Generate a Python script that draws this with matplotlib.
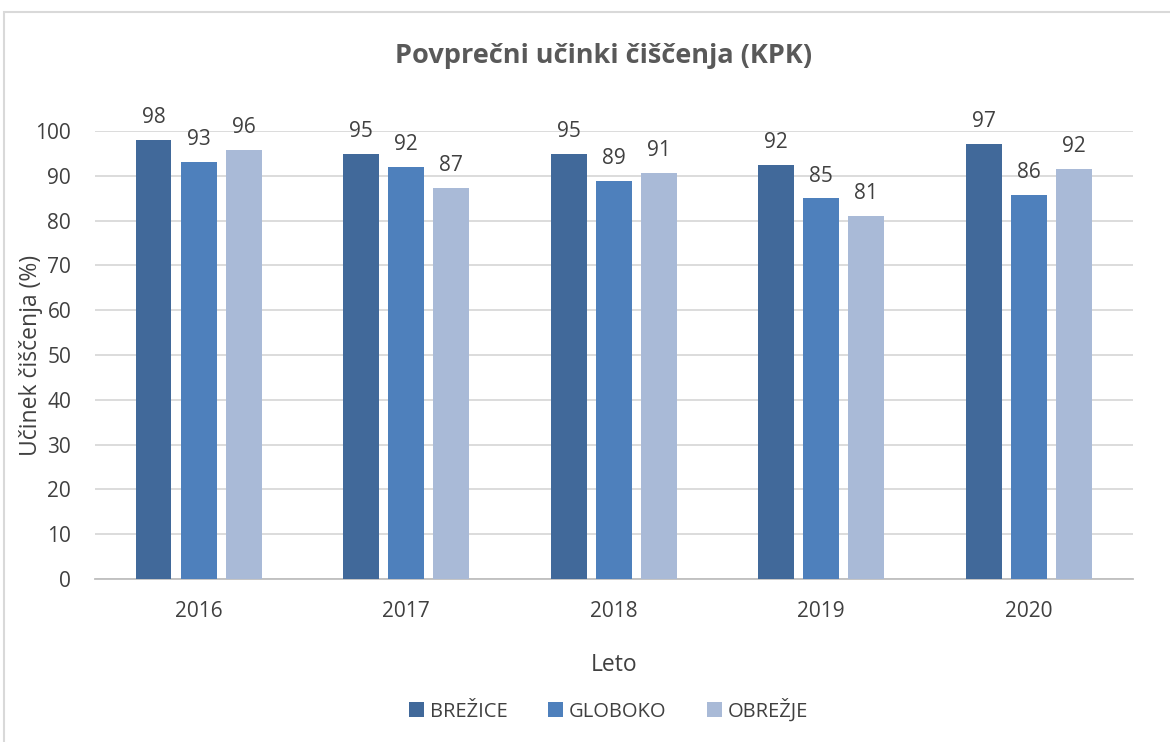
import numpy as np
import matplotlib.pyplot as plt
from matplotlib.patches import Rectangle

# ============================================================
# DATA
# ============================================================
years = ["2016", "2017", "2018", "2019", "2020"]
brezice = [98.0, 94.9, 94.9, 92.4, 97.1]
globoko = [93.1, 92.0, 88.8, 85.0, 85.7]
obrezje = [95.8, 87.3, 90.6, 81.0, 91.5]
labels_brezice = [98, 95, 95, 92, 97]
labels_globoko = [93, 92, 89, 85, 86]
labels_obrezje = [96, 87, 91, 81, 92]

series = [
    ("BREŽICE", brezice, labels_brezice, "#41699a"),
    ("GLOBOKO", globoko, labels_globoko, "#4e80bc"),
    ("OBREŽJE", obrezje, labels_obrezje, "#a9bad7"),
]

plt.rcParams["font.family"] = ["Open Sans", "DejaVu Sans"]
TXT = "#404040"

fig = plt.figure(figsize=(11.7, 7.42), dpi=100)
ax = fig.add_axes([0.081, 0.2197, 0.887, 0.6038])

# okvir grafa
fig.patches.append(Rectangle((4 / 1170, -0.01), 1.1, 1 - 12 / 742 + 0.01,
                             transform=fig.transFigure, fill=False,
                             edgecolor="#d9d9d9", linewidth=1.5))

x = np.arange(len(years))
width = 0.173
step = 0.217
for i, (name, vals, labs, col) in enumerate(series):
    pos = x + (i - 1) * step
    bars = ax.bar(pos, vals, width=width, color=col, label=name, zorder=3)
    for b, lab in zip(bars, labs):
        ax.text(b.get_x() + b.get_width() / 2, b.get_height() + 2.6, str(lab),
                ha="center", va="bottom", fontsize=15, color=TXT)

ax.set_ylim(0, 100)
ax.set_xlim(-0.5, len(years) - 0.5)
ax.set_yticks(range(0, 101, 10))
ax.set_xticks(x)
ax.set_xticklabels(years)
ax.tick_params(axis="both", length=0, labelsize=15, labelcolor=TXT)
ax.tick_params(axis="x", pad=16)
ax.tick_params(axis="y", pad=17)
ax.grid(axis="y", color="#d9d9d9", linewidth=1.3, zorder=0)
for s in ["top", "left", "right"]:
    ax.spines[s].set_visible(False)
ax.spines["bottom"].set_color("#bfbfbf")
ax.spines["bottom"].set_linewidth(1.3)

ax.set_ylabel("Učinek čiščenja (%)", fontsize=16.5, color=TXT)
ax.yaxis.set_label_coords(-0.050, 0.5)
ax.set_xlabel("Leto", fontsize=16.5, color=TXT, labelpad=22)
fig.text(0.516, 0.925, "Povprečni učinki čiščenja (KPK)", ha="center", va="center",
         fontsize=19.5, fontweight="bold", color="#595959")

fig.legend(loc="center", bbox_to_anchor=(0.52, 0.043), ncol=3, frameon=False,
           fontsize=14.5, labelcolor=TXT, handlelength=0.75, handleheight=0.75,
           columnspacing=2.0, handletextpad=0.3)

fig.savefig("out.png", dpi=100)
